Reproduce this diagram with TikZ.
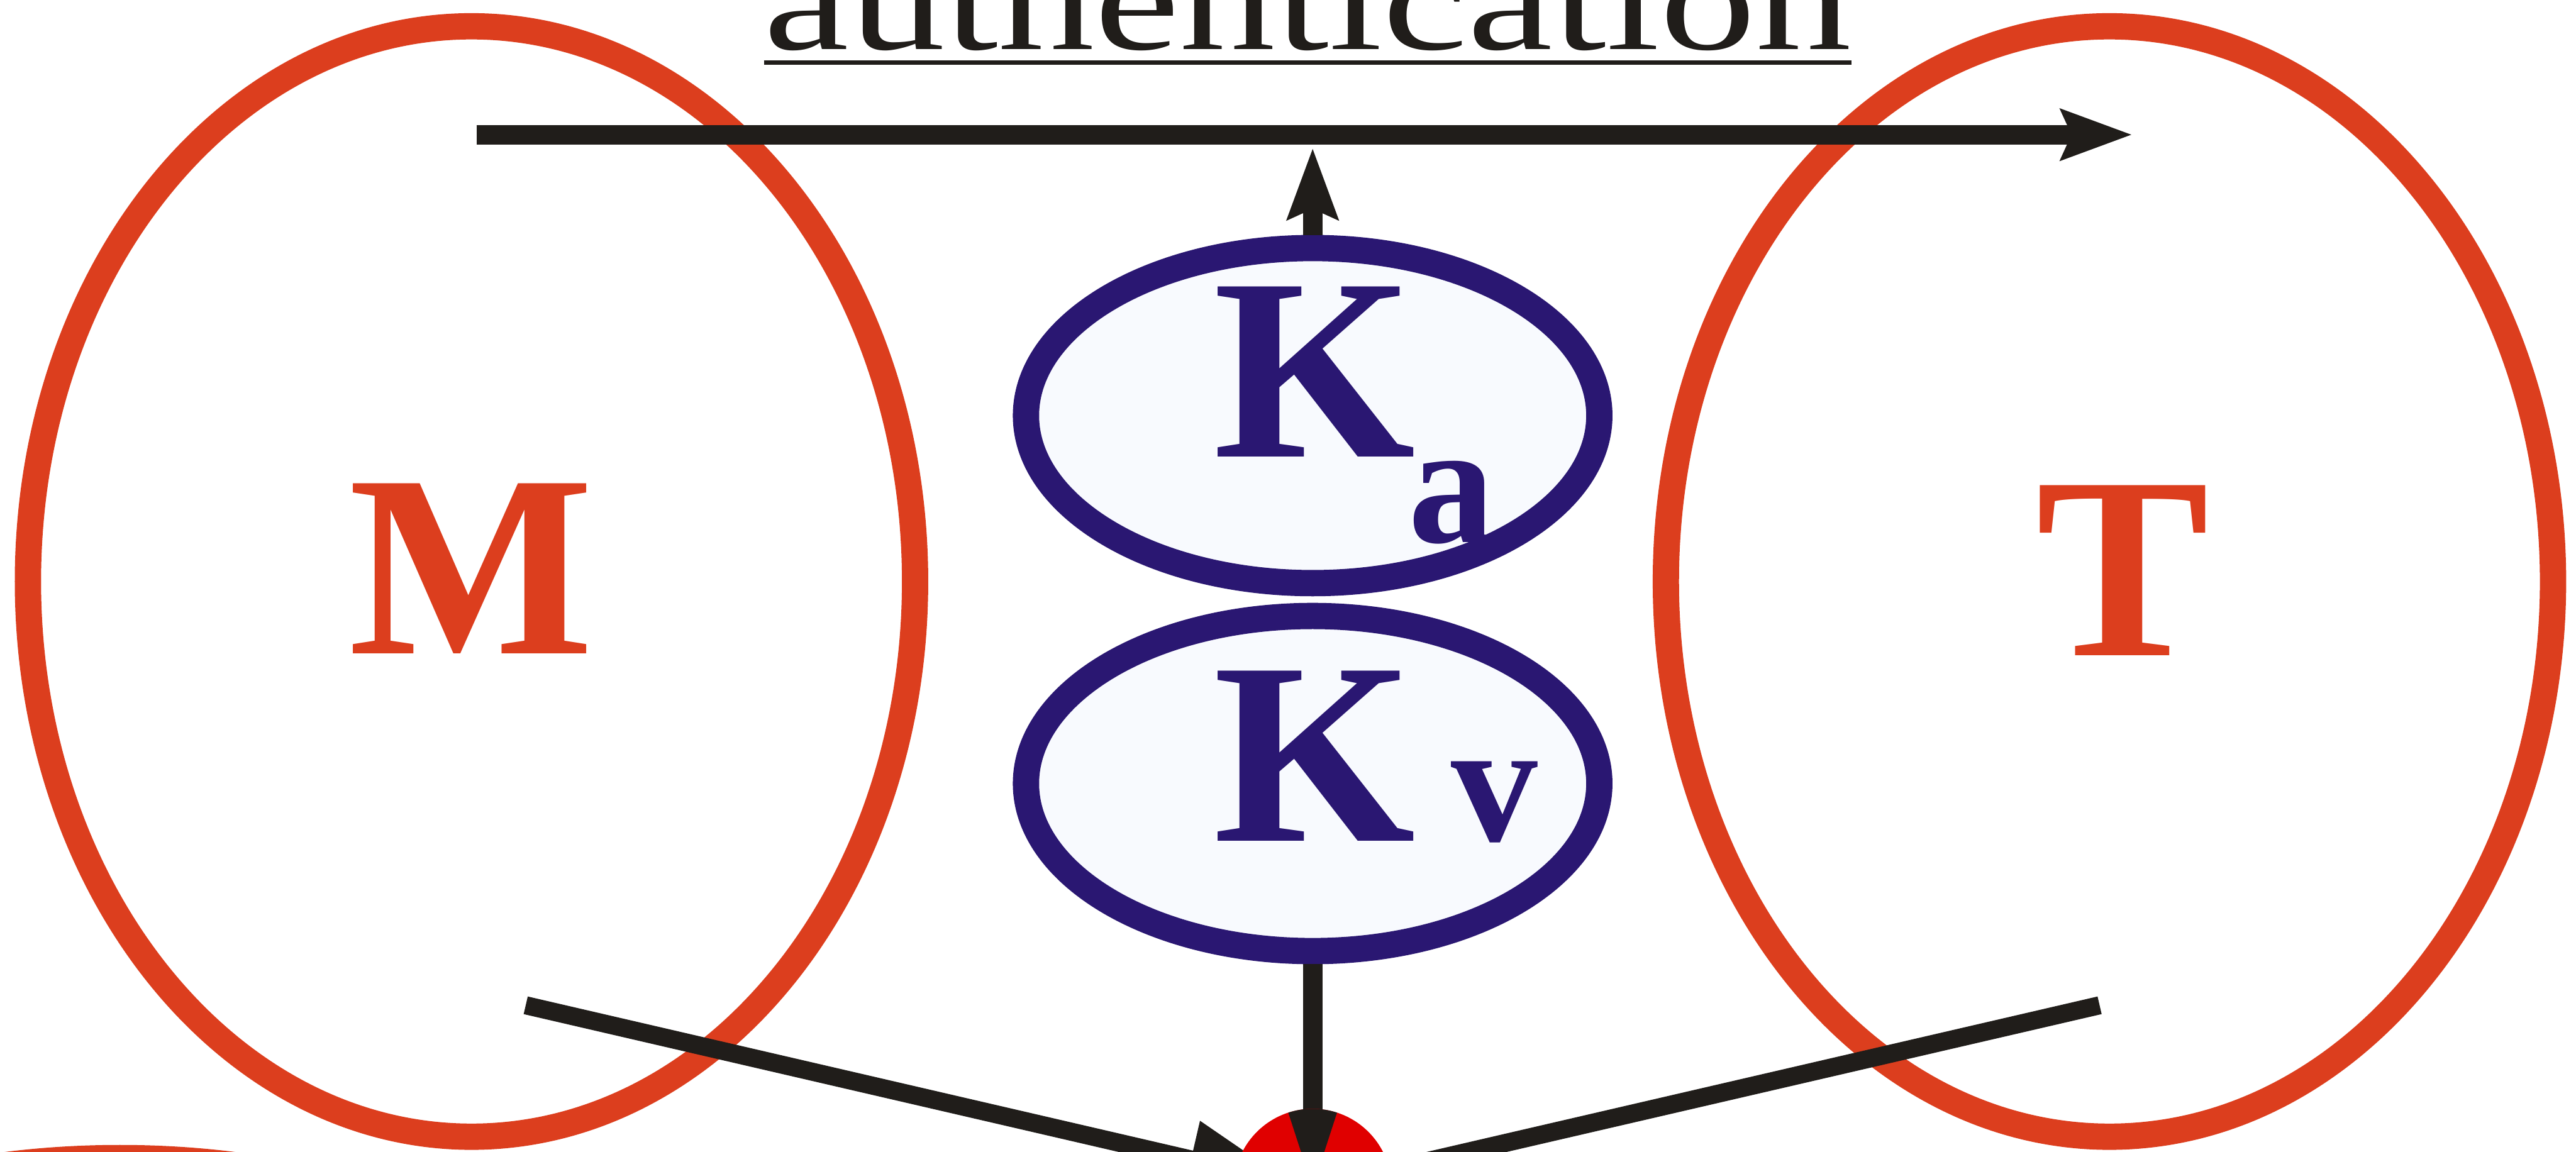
\documentclass[tikz,border=0pt]{standalone}
\usepackage{fontspec}
\setmainfont{Liberation Serif}
\definecolor{FigOrange}{HTML}{DC3E1E}
\definecolor{FigIndigo}{HTML}{2A1772}
\definecolor{FigBlack}{HTML}{201D1A}
\definecolor{FigRed}{HTML}{E00000}
\definecolor{FigPale}{HTML}{F8FAFE}
\usetikzlibrary{shapes.geometric, arrows.meta}

\begin{document}
\begin{tikzpicture}[x=0.2mm, y=-0.2mm,
        ring/.style={ellipse, draw=FigOrange, line width=3.2mm, minimum width=108mm, minimum height=135.2mm, inner sep=0},
        keyring/.style={ellipse, draw=FigIndigo, fill=FigPale, line width=3.2mm, minimum width=69.8mm, minimum height=40.8mm, inner sep=0},
        bigletter/.style={inner sep=0, font=\fontsize{90}{90}\selectfont\bfseries},
        subletter/.style={inner sep=0, font=\fontsize{60}{60}\selectfont\bfseries, text=FigIndigo},
        arr/.style={-{Stealth[length=8.6mm, width=6mm, inset=1.2mm]}, line width=2.4mm, FigBlack},
        bigarr/.style={-{Stealth[length=12.6mm, width=9mm, inset=0mm]}, line width=2.2mm, FigBlack},
        spoke/.style={line width=2.2mm, FigBlack},
        dial/.style={circle, fill=FigRed, minimum size=19.2mm, inner sep=0}
    ]
        \useasboundingbox (0,0) rectangle (1568,701);
        \clip (0,0) rectangle (1568,701);
        % the two parties
        \node[ring] (mring) at (287,354) {};
        \node[ring] (tring) at (1284,354) {};
        \node[ring, minimum height=51.2mm] (lowring) at (73,833) {};
        \node[bigletter, text=FigOrange, anchor=base] (mlabel) at (287,398) {M};
        \node[bigletter, text=FigOrange, anchor=base] (tlabel) at (1292,399) {T};
        % heading
        \node[anchor=base, inner sep=0, font=\fontsize{50}{50}\selectfont, text=FigBlack] (title) at (796,30) {\scalebox{1.33}[1]{authentication}};
        \draw[FigBlack, line width=0.55mm] (465,38) -- (1127,38);
        \coordinate (hstart) at (290,82);
        \coordinate (hend) at (1298,82);
        \draw[arr] (hstart) -- (hend);
        % keys
        \node[keyring] (ka) at (799,253) {};
        \node[keyring] (kv) at (799,477) {};
        \coordinate (katip) at (799,90);
        \draw[arr] (ka.north) -- (katip);
        \node[bigletter, text=FigIndigo, anchor=base] (kaK) at (800,278) {K};
        \node[subletter, anchor=base west] (kasub) at (857,330) {a};
        \node[bigletter, text=FigIndigo, anchor=base] (kvK) at (800,512) {K};
        \node[subletter, anchor=base west] (kvsub) at (883,512) {v};
        % lines to the dial
        \coordinate (dialc) at (799,723);
        \coordinate (mfoot) at (320,612);
        \coordinate (tfoot) at (1278,612);
        \draw[bigarr, shorten >=2.6mm] (mfoot) -- (dialc);
        \draw[spoke] (tfoot) -- (dialc);
        \draw[arr, -] (kv.south) -- (dialc);
        \node[dial] (dial) at (dialc) {};
        \fill[FigBlack] (dial.center) -- ++(-108:48) arc[start angle=-108, end angle=-72, radius=48] -- cycle;
    \end{tikzpicture}
\end{document}
